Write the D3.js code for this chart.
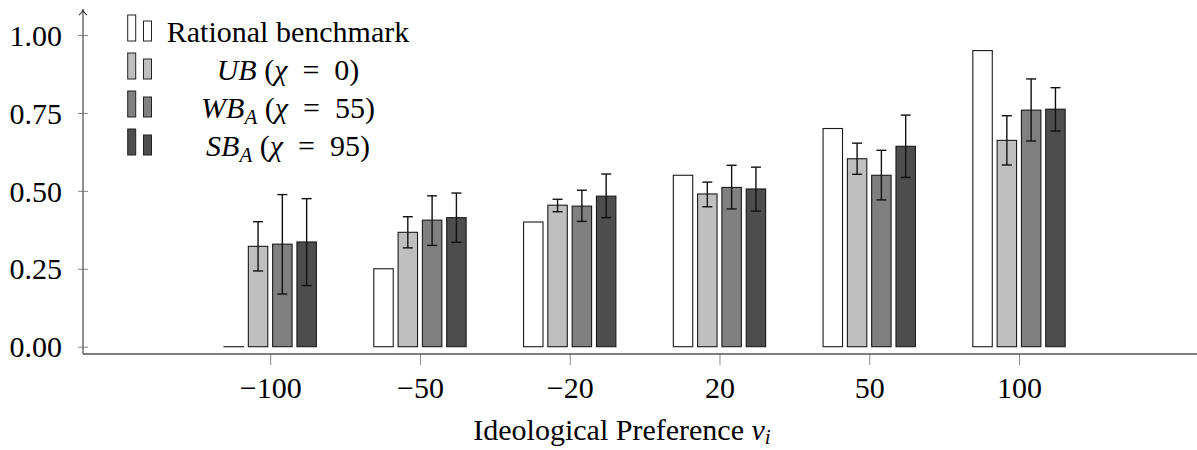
<!DOCTYPE html>
<html>
<head>
<meta charset="utf-8">
<script src="https://cdn.jsdelivr.net/npm/d3@7"></script>
<style>
  body { margin: 0; background: #fff; }
  svg { font-family: "Liberation Serif", "Times New Roman", serif; }
</style>
</head>
<body>
<div id="container"></div>
<script>
// data
const categories = ["\u2212100", "\u221250", "\u221220", "20", "50", "100"];
const rational = [0, 0.25, 0.40, 0.55, 0.70, 0.95];
const ub = [0.322, 0.367, 0.454, 0.490, 0.603, 0.662];
const ubLow = [0.243, 0.317, 0.433, 0.449, 0.553, 0.583];
const ubHigh = [0.401, 0.417, 0.473, 0.528, 0.653, 0.741];
const wb = [0.329, 0.406, 0.451, 0.511, 0.550, 0.759];
const wbLow = [0.169, 0.325, 0.402, 0.442, 0.471, 0.660];
const wbHigh = [0.488, 0.484, 0.502, 0.582, 0.630, 0.859];
const sb = [0.336, 0.414, 0.483, 0.506, 0.643, 0.762];
const sbLow = [0.196, 0.335, 0.414, 0.435, 0.543, 0.692];
const sbHigh = [0.475, 0.493, 0.554, 0.576, 0.743, 0.831];
const yTicks = [0, 0.25, 0.5, 0.75, 1.0];

const series = [
  { key: "rational", values: rational, low: null, high: null, fill: "#ffffff" },
  { key: "ub", values: ub, low: ubLow, high: ubHigh, fill: "#bfbfbf" },
  { key: "wb", values: wb, low: wbLow, high: wbHigh, fill: "#808080" },
  { key: "sb", values: sb, low: sbLow, high: sbHigh, fill: "#4d4d4d" }
];

const width = 1197, height = 450;
const axisX = 83, axisBottom = 354;
const serif = "Liberation Serif, Times New Roman, serif";

const svg = d3.select("#container").append("svg")
  .attr("width", width)
  .attr("height", height);

const xScale = d3.scalePoint()
  .domain(categories)
  .range([270.2, 1019]);

const inner = d3.scaleBand()
  .domain(series.map(s => s.key))
  .range([-48.6, 48.6])
  .paddingInner(0.2)
  .paddingOuter(0.1);

const yScale = d3.scaleLinear()
  .domain([0, 1])
  .range([346.7, 35]);

// bars
series.forEach(s => {
  const g = svg.append("g").attr("class", "series-" + s.key);
  g.selectAll("rect")
    .data(s.values)
    .enter()
    .append("rect")
    .attr("x", (d, i) => xScale(categories[i]) + inner(s.key))
    .attr("y", d => yScale(d))
    .attr("width", inner.bandwidth())
    .attr("height", d => Math.max(yScale(0) - yScale(d), 0.05))
    .attr("fill", s.fill)
    .attr("stroke", "#1a1a1a")
    .attr("stroke-width", 1.1);

  if (s.low) {
    const cx = i => xScale(categories[i]) + inner(s.key) + inner.bandwidth() / 2;
    const eb = g.selectAll("g.err")
      .data(s.values)
      .enter()
      .append("g")
      .attr("class", "err")
      .attr("stroke", "#111")
      .attr("stroke-width", 1.4);
    eb.append("line")
      .attr("x1", (d, i) => cx(i)).attr("x2", (d, i) => cx(i))
      .attr("y1", (d, i) => yScale(s.low[i])).attr("y2", (d, i) => yScale(s.high[i]));
    eb.append("line")
      .attr("x1", (d, i) => cx(i) - 5).attr("x2", (d, i) => cx(i) + 5)
      .attr("y1", (d, i) => yScale(s.low[i])).attr("y2", (d, i) => yScale(s.low[i]));
    eb.append("line")
      .attr("x1", (d, i) => cx(i) - 5).attr("x2", (d, i) => cx(i) + 5)
      .attr("y1", (d, i) => yScale(s.high[i])).attr("y2", (d, i) => yScale(s.high[i]));
  }
});

// axes
const xAxis = d3.axisBottom(xScale).tickSize(11).tickPadding(12);
const gx = svg.append("g")
  .attr("transform", "translate(0," + axisBottom + ")")
  .call(xAxis)
  .attr("font-family", serif)
  .attr("font-size", 30);
gx.select(".domain").remove();
gx.selectAll(".tick line").attr("stroke", "#888").attr("stroke-width", 1);
gx.selectAll(".tick text")
  .attr("fill", "#000")
  .attr("dy", "0.71em");

const yAxis = d3.axisLeft(yScale)
  .tickValues(yTicks)
  .tickFormat(d3.format(".2f"))
  .tickSize(5)
  .tickPadding(16);
const gy = svg.append("g")
  .attr("transform", "translate(" + axisX + ",0)")
  .call(yAxis)
  .attr("font-family", serif)
  .attr("font-size", 30);
gy.select(".domain").remove();
gy.selectAll(".tick line").attr("x2", 5).attr("x1", -5).attr("stroke", "#888");
gy.selectAll(".tick text")
  .attr("fill", "#000")
  .attr("dy", "0.34em");

// axis lines
svg.append("line")
  .attr("x1", axisX).attr("x2", width)
  .attr("y1", axisBottom).attr("y2", axisBottom)
  .attr("stroke", "#555").attr("stroke-width", 1.3);
svg.append("line")
  .attr("x1", axisX).attr("x2", axisX)
  .attr("y1", axisBottom).attr("y2", 10)
  .attr("stroke", "#555").attr("stroke-width", 1.3);
svg.append("path")
  .attr("d", "M" + (axisX - 4) + ",15 Q" + axisX + ",12 " + axisX + ",9 Q" + axisX + ",12 " + (axisX + 4) + ",15")
  .attr("fill", "none").attr("stroke", "#333").attr("stroke-width", 1.1);

// x label
const xl = svg.append("text")
  .attr("x", 622)
  .attr("y", 440)
  .attr("text-anchor", "middle")
  .attr("font-size", 30);
xl.append("tspan").text("Ideological Preference ");
xl.append("tspan").attr("font-style", "italic").text("v");
xl.append("tspan").attr("font-style", "italic").attr("font-size", 21).attr("dy", 4).text("i");

// legend
const eq = "\u2002=\u2002";
const legendRows = [
  [{ t: "Rational benchmark" }],
  [{ t: "UB", i: true }, { t: " (" }, { t: "\u03c7", i: true }, { t: eq + "0)" }],
  [{ t: "WB", i: true }, { t: "A", i: true, sub: true }, { t: " (" }, { t: "\u03c7", i: true }, { t: eq + "55)" }],
  [{ t: "SB", i: true }, { t: "A", i: true, sub: true }, { t: " (" }, { t: "\u03c7", i: true }, { t: eq + "95)" }]
];
const legendBase = [41, 79, 117, 155];

series.forEach((s, k) => {
  const lg = svg.append("g");
  lg.append("rect")
    .attr("x", 127.7).attr("y", legendBase[k] - 26)
    .attr("width", 8).attr("height", 26)
    .attr("fill", s.fill).attr("stroke", "#222").attr("stroke-width", 1);
  lg.append("rect")
    .attr("x", 143.5).attr("y", legendBase[k] - 20)
    .attr("width", 8).attr("height", 20)
    .attr("fill", s.fill).attr("stroke", "#222").attr("stroke-width", 1);
  const txt = lg.append("text")
    .attr("x", 288)
    .attr("y", legendBase[k] + 1)
    .attr("text-anchor", "middle")
    .attr("font-size", 30);
  let shifted = false;
  legendRows[k].forEach(p => {
    const ts = txt.append("tspan").text(p.t);
    if (p.i) ts.attr("font-style", "italic");
    if (p.sub) { ts.attr("font-size", 21).attr("dy", 6); shifted = true; }
    else if (shifted) { ts.attr("dy", -6); shifted = false; }
  });
});
</script>
</body>
</html>
